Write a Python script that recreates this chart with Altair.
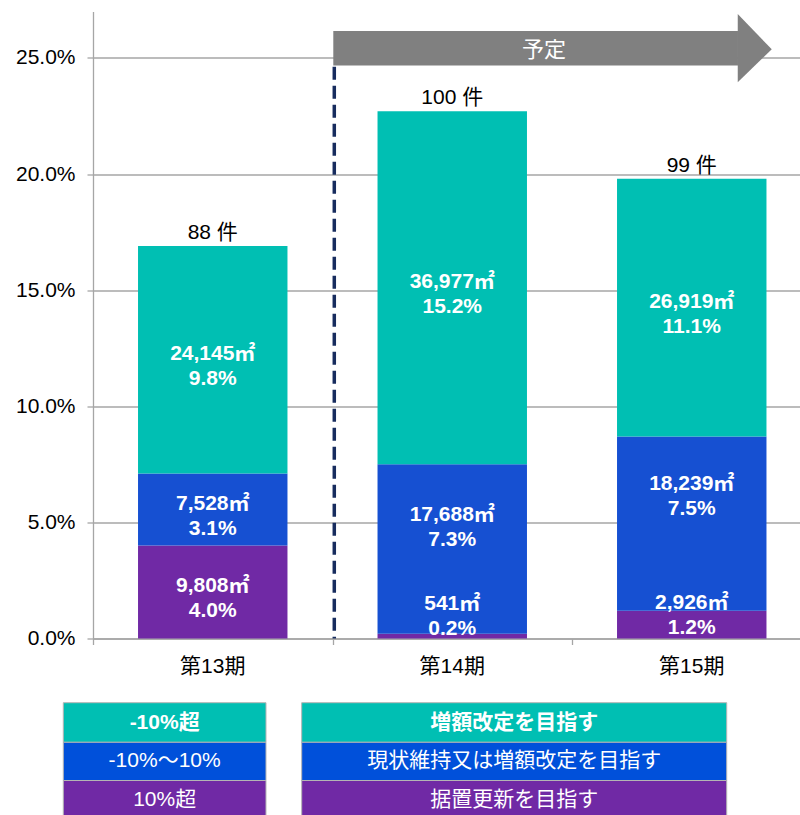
import altair as alt
import pandas as pd

# ---------------- data ----------------
periods = ["第13期", "第14期", "第15期"]
counts = [88, 100, 99]
# share of floor area (%) for each rent-revision category, stacked bottom -> top
share_up10 = [4.0, 0.2, 1.2]        # 10%超  (据置更新を目指す)
share_mid = [3.1, 7.3, 7.5]         # -10%～10% (現状維持又は増額改定を目指す)
share_down10 = [9.8, 15.2, 11.1]    # -10%超 (増額改定を目指す)
area_up10 = [9808, 541, 2926]
area_mid = [7528, 17688, 18239]
area_down10 = [24145, 36977, 26919]

legend_left = ["-10%超", "-10%～10%", "10%超"]
legend_right = ["増額改定を目指す", "現状維持又は増額改定を目指す", "据置更新を目指す"]
arrow_label = "予定"
y_ticks = [0, 5, 10, 15, 20, 25]

# ---------------- styles ----------------
TEAL = "#00BFB3"
BLUE = "#1650D2"
BLUE_LEG = "#0050DA"
PURPLE = "#7029A5"
GRID = "#A6A6A6"
FONT = "Liberation Sans, Noto Sans CJK JP"
FS = 21

W, H = 707, 627
Y_MAX = 27.0
X_MAX = 707 / 239.5
PX = H / Y_MAX            # pixels per 1 %
HALF = 0.312              # half bar width in band units

XS = alt.Scale(domain=[0, X_MAX], nice=False, zero=False)
YS = alt.Scale(domain=[0, Y_MAX], nice=False, zero=False)
XA = alt.Axis(values=[0, 1, 2], labels=False, grid=False, ticks=True, tickSize=6,
              tickColor=GRID, domainColor=GRID, domainWidth=1.3, tickWidth=1.3)
YA = alt.Axis(values=y_ticks, labelExpr="format(datum.value, '.1f') + '%'",
              grid=True, gridColor=GRID, gridWidth=1.3, tickSize=6, tickColor=GRID,
              tickWidth=1.3, domainColor=GRID, domainWidth=1.3, labelFontSize=FS,
              labelFont=FONT, labelColor="#000000", labelPadding=12)


def X(f):
    return alt.X(f, type="quantitative", scale=XS, axis=XA, title=None)


def Y(f):
    return alt.Y(f, type="quantitative", scale=YS, axis=YA, title=None)


# ---------------- stacked bars ----------------
cats = [("up", share_up10, area_up10, PURPLE),
        ("mid", share_mid, area_mid, BLUE),
        ("down", share_down10, area_down10, TEAL)]
# label vertical nudge in px (positive = down) relative to the segment middle
LABEL_DY = {("第14期", "mid"): -34, ("第14期", "up"): -32,
            ("第15期", "mid"): -39.5, ("第15期", "up"): -21.6}
DEFAULT_DY = -6

rows = []
for i, p in enumerate(periods):
    base = 0.0
    for key, shares, areas, col in cats:
        s = shares[i]
        mid = base + s / 2
        dy = LABEL_DY.get((p, key), DEFAULT_DY)
        rows.append(dict(period=p, x0=i + 0.5 - HALF, x1=i + 0.5 + HALF,
                         y0=base, y1=base + s, color=col, cx=i + 0.5,
                         ly=mid - dy / PX,
                         label=f"{areas[i]:,}㎡\n{s:.1f}%"))
        base += s
seg = pd.DataFrame(rows)

bars = alt.Chart(seg).mark_rect().encode(
    x=X("x0"), x2="x1", y=Y("y0"), y2="y1",
    color=alt.Color("color:N", scale=None))

seg_text = alt.Chart(seg).mark_text(
    color="white", font=FONT, fontSize=FS, fontWeight="bold",
    lineBreak="\n", lineHeight=25, baseline="middle", align="center"
).encode(x=X("cx"), y=Y("ly"), text="label:N")

tot = pd.DataFrame(dict(
    cx=[i + 0.5 for i in range(len(periods))],
    total=[a + b + c for a, b, c in zip(share_up10, share_mid, share_down10)],
    label=[f"{c} 件" for c in counts]))
count_text = alt.Chart(tot).mark_text(
    font=FONT, fontSize=FS, color="#000000", baseline="alphabetic", dy=-7
).encode(x=X("cx"), y=Y("total"), text="label:N")

cat_df = pd.DataFrame(dict(cx=[i + 0.5 for i in range(len(periods))],
                           cy=[-1.214] * len(periods), label=periods))
cat_text = alt.Chart(cat_df).mark_text(
    font=FONT, fontSize=FS, color="#000000", baseline="middle"
).encode(x=X("cx"), y=Y("cy"), text="label:N")

# ---------------- forecast divider & arrow ----------------
div_df = pd.DataFrame(dict(dx=[1.0075], dy0=[24.62], dy1=[0.0]))
divider = alt.Chart(div_df).mark_rule(
    color="#172C5E", strokeWidth=3.5, strokeDash=[13, 6]
).encode(x=X("dx"), y=Y("dy0"), y2="dy1")

body_df = pd.DataFrame(dict(bx0=[1.0033], bx1=[2.693], by0=[24.67], by1=[26.16]))
arrow_body = alt.Chart(body_df).mark_rect(color="#808080").encode(
    x=X("bx0"), x2="bx1", y=Y("by0"), y2="by1")

head_df = pd.DataFrame(dict(hx=[2.692, 2.834], hy0=[26.89, 25.37], hy1=[23.95, 25.37]))
arrow_head = alt.Chart(head_df).mark_area(color="#808080", orient="vertical").encode(
    x=X("hx"), y=Y("hy0"), y2="hy1")

arrow_txt_df = pd.DataFrame(dict(tx=[1.883], ty=[25.34], label=[arrow_label]))
arrow_text = alt.Chart(arrow_txt_df).mark_text(
    font=FONT, fontSize=22, color="white", baseline="middle"
).encode(x=X("tx"), y=Y("ty"), text="label:N")

# ---------------- legend table ----------------
row_edges = [-2.765, -4.47, -6.115, -7.773]
col_edges = [(-0.124, 0.7223), (0.8714, 2.646)]
fills_left = [TEAL, BLUE_LEG, PURPLE]
leg_rows = []
for c, texts in enumerate([legend_left, legend_right]):
    for r, t in enumerate(texts):
        leg_rows.append(dict(lx0=col_edges[c][0], lx1=col_edges[c][1],
                             ly0=row_edges[r + 1], ly1=row_edges[r],
                             lcx=(col_edges[c][0] + col_edges[c][1]) / 2,
                             lcy=(row_edges[r] + row_edges[r + 1]) / 2,
                             fill=fills_left[r], label=t,
                             weight="bold" if r == 0 else "normal"))
leg = pd.DataFrame(leg_rows)
leg_rect = alt.Chart(leg).mark_rect(stroke="#B4B4B4", strokeWidth=1).encode(
    x=X("lx0"), x2="lx1", y=Y("ly0"), y2="ly1",
    color=alt.Color("fill:N", scale=None))
leg_text_bold = alt.Chart(leg[leg.weight == "bold"]).mark_text(
    font=FONT, fontSize=FS, fontWeight="bold", color="white", baseline="middle"
).encode(x=X("lcx"), y=Y("lcy"), text="label:N")
leg_text_norm = alt.Chart(leg[leg.weight == "normal"]).mark_text(
    font=FONT, fontSize=FS, color="white", baseline="middle"
).encode(x=X("lcx"), y=Y("lcy"), text="label:N")

chart = alt.layer(
    bars, seg_text, count_text, cat_text, divider, arrow_body, arrow_head,
    arrow_text, leg_rect, leg_text_bold, leg_text_norm
).properties(
    width=W, height=H,
    autosize=alt.AutoSizeParams(type="none"),
    padding={"left": 93, "top": 11.5, "right": 0, "bottom": 176.5},
    background="white",
).configure_view(strokeWidth=0)

chart.save("out.html", embed_options={"renderer": "svg", "actions": False})
